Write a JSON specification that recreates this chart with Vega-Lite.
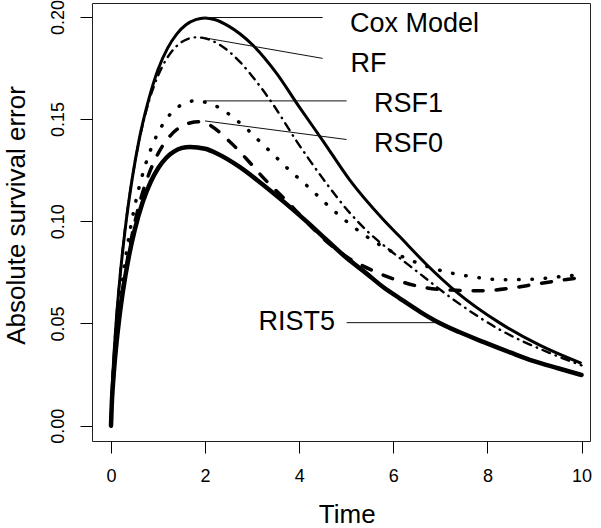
{
  "$schema": "https://vega.github.io/schema/vega-lite/v6.json",
  "width": 498,
  "height": 438,
  "autosize": {"type": "none"},
  "padding": {"left": 92, "top": 3, "right": 11, "bottom": 87},
  "background": "white",
  "config": {
    "view": {"stroke": "#222", "strokeWidth": 1},
    "font": "Liberation Sans",
    "axis": {"grid": false, "domain": false, "tickColor": "#000", "tickWidth": 1, "labelColor": "#000", "titleColor": "#000", "labelFont": "Liberation Sans", "titleFont": "Liberation Sans", "titleFontWeight": "normal"}
  },
  "datasets": {
    "curves": [
      {"model": "Cox Model", "t": 0, "v": 0},
      {"model": "Cox Model", "t": 0.02, "v": 0.0159},
      {"model": "Cox Model", "t": 0.05, "v": 0.0298},
      {"model": "Cox Model", "t": 0.1, "v": 0.0476},
      {"model": "Cox Model", "t": 0.2, "v": 0.0747},
      {"model": "Cox Model", "t": 0.3, "v": 0.0959},
      {"model": "Cox Model", "t": 0.45, "v": 0.1208},
      {"model": "Cox Model", "t": 0.6, "v": 0.1402},
      {"model": "Cox Model", "t": 0.8, "v": 0.1595},
      {"model": "Cox Model", "t": 1.0, "v": 0.1743},
      {"model": "Cox Model", "t": 1.2, "v": 0.1846},
      {"model": "Cox Model", "t": 1.4, "v": 0.1917},
      {"model": "Cox Model", "t": 1.6, "v": 0.1963},
      {"model": "Cox Model", "t": 1.8, "v": 0.1987},
      {"model": "Cox Model", "t": 2.0, "v": 0.1995},
      {"model": "Cox Model", "t": 2.2, "v": 0.1987},
      {"model": "Cox Model", "t": 2.5, "v": 0.1955},
      {"model": "Cox Model", "t": 3.0, "v": 0.1865},
      {"model": "Cox Model", "t": 3.5, "v": 0.173},
      {"model": "Cox Model", "t": 4.0, "v": 0.156},
      {"model": "Cox Model", "t": 4.5, "v": 0.1395},
      {"model": "Cox Model", "t": 5.08, "v": 0.12},
      {"model": "Cox Model", "t": 5.78, "v": 0.101},
      {"model": "Cox Model", "t": 6.14, "v": 0.0924},
      {"model": "Cox Model", "t": 6.7, "v": 0.079},
      {"model": "Cox Model", "t": 7.34, "v": 0.0655},
      {"model": "Cox Model", "t": 8.26, "v": 0.0503},
      {"model": "Cox Model", "t": 9.11, "v": 0.0394},
      {"model": "Cox Model", "t": 10, "v": 0.0305},
      {"model": "RF", "t": 0, "v": 0},
      {"model": "RF", "t": 0.018, "v": 0.0151},
      {"model": "RF", "t": 0.046, "v": 0.0284},
      {"model": "RF", "t": 0.091, "v": 0.0454},
      {"model": "RF", "t": 0.182, "v": 0.0712},
      {"model": "RF", "t": 0.273, "v": 0.0913},
      {"model": "RF", "t": 0.41, "v": 0.115},
      {"model": "RF", "t": 0.546, "v": 0.1335},
      {"model": "RF", "t": 0.728, "v": 0.1523},
      {"model": "RF", "t": 0.91, "v": 0.166},
      {"model": "RF", "t": 1.092, "v": 0.1758},
      {"model": "RF", "t": 1.274, "v": 0.1826},
      {"model": "RF", "t": 1.456, "v": 0.1869},
      {"model": "RF", "t": 1.638, "v": 0.1893},
      {"model": "RF", "t": 1.82, "v": 0.19},
      {"model": "RF", "t": 2.0, "v": 0.1895},
      {"model": "RF", "t": 2.3, "v": 0.1865},
      {"model": "RF", "t": 2.74, "v": 0.178},
      {"model": "RF", "t": 3.0, "v": 0.171},
      {"model": "RF", "t": 3.45, "v": 0.157},
      {"model": "RF", "t": 3.95, "v": 0.139},
      {"model": "RF", "t": 4.5, "v": 0.121},
      {"model": "RF", "t": 5.08, "v": 0.104},
      {"model": "RF", "t": 5.5, "v": 0.094},
      {"model": "RF", "t": 6.0, "v": 0.0845},
      {"model": "RF", "t": 6.5, "v": 0.0755},
      {"model": "RF", "t": 7.2, "v": 0.063},
      {"model": "RF", "t": 8.26, "v": 0.047},
      {"model": "RF", "t": 9.33, "v": 0.0355},
      {"model": "RF", "t": 10, "v": 0.0295},
      {"model": "RSF1", "t": 0, "v": 0},
      {"model": "RSF1", "t": 0.018, "v": 0.0127},
      {"model": "RSF1", "t": 0.046, "v": 0.0238},
      {"model": "RSF1", "t": 0.091, "v": 0.038},
      {"model": "RSF1", "t": 0.182, "v": 0.0596},
      {"model": "RSF1", "t": 0.273, "v": 0.0764},
      {"model": "RSF1", "t": 0.41, "v": 0.0963},
      {"model": "RSF1", "t": 0.546, "v": 0.1117},
      {"model": "RSF1", "t": 0.728, "v": 0.1274},
      {"model": "RSF1", "t": 0.91, "v": 0.1389},
      {"model": "RSF1", "t": 1.092, "v": 0.1471},
      {"model": "RSF1", "t": 1.274, "v": 0.1528},
      {"model": "RSF1", "t": 1.456, "v": 0.1564},
      {"model": "RSF1", "t": 1.638, "v": 0.1584},
      {"model": "RSF1", "t": 1.82, "v": 0.159},
      {"model": "RSF1", "t": 2.1, "v": 0.1575},
      {"model": "RSF1", "t": 2.39, "v": 0.1544},
      {"model": "RSF1", "t": 2.61, "v": 0.1505},
      {"model": "RSF1", "t": 2.85, "v": 0.146},
      {"model": "RSF1", "t": 3.06, "v": 0.1413},
      {"model": "RSF1", "t": 3.27, "v": 0.1367},
      {"model": "RSF1", "t": 3.48, "v": 0.132},
      {"model": "RSF1", "t": 3.7, "v": 0.127},
      {"model": "RSF1", "t": 3.93, "v": 0.1222},
      {"model": "RSF1", "t": 4.16, "v": 0.1175},
      {"model": "RSF1", "t": 4.37, "v": 0.113},
      {"model": "RSF1", "t": 4.58, "v": 0.1084},
      {"model": "RSF1", "t": 4.8, "v": 0.1039},
      {"model": "RSF1", "t": 5.04, "v": 0.0993},
      {"model": "RSF1", "t": 5.27, "v": 0.0952},
      {"model": "RSF1", "t": 5.52, "v": 0.0912},
      {"model": "RSF1", "t": 5.77, "v": 0.0877},
      {"model": "RSF1", "t": 6.28, "v": 0.0818},
      {"model": "RSF1", "t": 6.56, "v": 0.0792},
      {"model": "RSF1", "t": 7.13, "v": 0.0752},
      {"model": "RSF1", "t": 7.73, "v": 0.0727},
      {"model": "RSF1", "t": 8.32, "v": 0.0714},
      {"model": "RSF1", "t": 8.92, "v": 0.0716},
      {"model": "RSF1", "t": 9.5, "v": 0.0728},
      {"model": "RSF1", "t": 10, "v": 0.074},
      {"model": "RSF0", "t": 0, "v": 0},
      {"model": "RSF0", "t": 0.019, "v": 0.0118},
      {"model": "RSF0", "t": 0.047, "v": 0.0222},
      {"model": "RSF0", "t": 0.093, "v": 0.0355},
      {"model": "RSF0", "t": 0.186, "v": 0.0557},
      {"model": "RSF0", "t": 0.279, "v": 0.0714},
      {"model": "RSF0", "t": 0.419, "v": 0.09},
      {"model": "RSF0", "t": 0.558, "v": 0.1045},
      {"model": "RSF0", "t": 0.744, "v": 0.1192},
      {"model": "RSF0", "t": 0.93, "v": 0.1299},
      {"model": "RSF0", "t": 1.116, "v": 0.1376},
      {"model": "RSF0", "t": 1.302, "v": 0.1429},
      {"model": "RSF0", "t": 1.488, "v": 0.1463},
      {"model": "RSF0", "t": 1.674, "v": 0.1481},
      {"model": "RSF0", "t": 1.86, "v": 0.1487},
      {"model": "RSF0", "t": 2.03, "v": 0.1478},
      {"model": "RSF0", "t": 2.49, "v": 0.1397},
      {"model": "RSF0", "t": 2.88, "v": 0.1305},
      {"model": "RSF0", "t": 3.27, "v": 0.1205},
      {"model": "RSF0", "t": 3.73, "v": 0.11},
      {"model": "RSF0", "t": 4.12, "v": 0.1006},
      {"model": "RSF0", "t": 4.55, "v": 0.0908},
      {"model": "RSF0", "t": 5.01, "v": 0.0826},
      {"model": "RSF0", "t": 5.54, "v": 0.0761},
      {"model": "RSF0", "t": 6.07, "v": 0.0712},
      {"model": "RSF0", "t": 6.64, "v": 0.0677},
      {"model": "RSF0", "t": 7.34, "v": 0.0662},
      {"model": "RSF0", "t": 7.84, "v": 0.066},
      {"model": "RSF0", "t": 8.48, "v": 0.0672},
      {"model": "RSF0", "t": 9.04, "v": 0.0693},
      {"model": "RSF0", "t": 9.64, "v": 0.0714},
      {"model": "RSF0", "t": 10, "v": 0.0725},
      {"model": "RIST5", "t": 0, "v": 0},
      {"model": "RIST5", "t": 0.017, "v": 0.0109},
      {"model": "RIST5", "t": 0.042, "v": 0.0204},
      {"model": "RIST5", "t": 0.084, "v": 0.0326},
      {"model": "RIST5", "t": 0.168, "v": 0.0511},
      {"model": "RIST5", "t": 0.252, "v": 0.0655},
      {"model": "RIST5", "t": 0.378, "v": 0.0826},
      {"model": "RIST5", "t": 0.504, "v": 0.0958},
      {"model": "RIST5", "t": 0.672, "v": 0.1093},
      {"model": "RIST5", "t": 0.84, "v": 0.1191},
      {"model": "RIST5", "t": 1.008, "v": 0.1262},
      {"model": "RIST5", "t": 1.176, "v": 0.1311},
      {"model": "RIST5", "t": 1.344, "v": 0.1342},
      {"model": "RIST5", "t": 1.512, "v": 0.1359},
      {"model": "RIST5", "t": 1.68, "v": 0.1364},
      {"model": "RIST5", "t": 2.0, "v": 0.1355},
      {"model": "RIST5", "t": 2.25, "v": 0.1332},
      {"model": "RIST5", "t": 2.74, "v": 0.1265},
      {"model": "RIST5", "t": 3.17, "v": 0.119},
      {"model": "RIST5", "t": 3.7, "v": 0.109},
      {"model": "RIST5", "t": 4.16, "v": 0.0998},
      {"model": "RIST5", "t": 4.6, "v": 0.0905},
      {"model": "RIST5", "t": 5.01, "v": 0.082},
      {"model": "RIST5", "t": 5.4, "v": 0.075},
      {"model": "RIST5", "t": 5.79, "v": 0.0677},
      {"model": "RIST5", "t": 6.14, "v": 0.0622},
      {"model": "RIST5", "t": 6.57, "v": 0.0557},
      {"model": "RIST5", "t": 6.88, "v": 0.0515},
      {"model": "RIST5", "t": 7.4, "v": 0.0458},
      {"model": "RIST5", "t": 7.91, "v": 0.041},
      {"model": "RIST5", "t": 8.5, "v": 0.0357},
      {"model": "RIST5", "t": 8.97, "v": 0.0317},
      {"model": "RIST5", "t": 9.5, "v": 0.0281},
      {"model": "RIST5", "t": 10, "v": 0.0248}
    ],
    "pointers": [
      {"model": "Cox Model", "t1": 1.955, "v1": 0.1997, "t2": 4.497, "v2": 0.1997},
      {"model": "RF", "t1": 1.955, "v1": 0.1899, "t2": 4.497, "v2": 0.1797},
      {"model": "RSF1", "t1": 1.997, "v1": 0.1589, "t2": 5.007, "v2": 0.1589},
      {"model": "RSF0", "t1": 1.997, "v1": 0.1491, "t2": 5.007, "v2": 0.14},
      {"model": "RIST5", "t1": 5.007, "v1": 0.0504, "t2": 6.883, "v2": 0.0504}
    ],
    "labels": [
      {"label": "Cox Model", "t": 5.08, "v": 0.1927, "side": "left"},
      {"label": "RF", "t": 5.09, "v": 0.1732, "side": "left"},
      {"label": "RSF1", "t": 5.59, "v": 0.1535, "side": "left"},
      {"label": "RSF0", "t": 5.59, "v": 0.134, "side": "left"},
      {"label": "RIST5", "t": 4.76, "v": 0.0468, "side": "right"}
    ]
  },
  "encoding": {
    "x": {"type": "quantitative", "scale": {"domain": [-0.404, 10.18], "nice": false, "zero": false}},
    "y": {"type": "quantitative", "scale": {"domain": [-0.0075, 0.2068], "nice": false, "zero": false}}
  },
  "layer": [
    {
      "data": {"name": "curves"},
      "transform": [{"filter": "datum.model === 'Cox Model'"}],
      "mark": {"type": "line", "interpolate": "monotone", "color": "#000", "strokeWidth": 3},
      "encoding": {
        "x": {"field": "t", "type": "quantitative", "axis": {"values": [0, 2, 4, 6, 8, 10], "title": "Time", "tickSize": 12, "labelFontSize": 18, "labelBaseline": "alphabetic", "labelPadding": 28, "titleFontSize": 26, "titleBaseline": "alphabetic", "titleX": 254.7, "titleY": 81.5, "titleAnchor": null}},
        "y": {"field": "v", "type": "quantitative", "axis": {"values": [0, 0.05, 0.1, 0.15, 0.2], "format": ".2f", "title": "Absolute survival error", "tickSize": 12, "labelFontSize": 18, "labelAngle": -90, "labelAlign": "center", "labelBaseline": "alphabetic", "labelPadding": 16.5, "titleFontSize": 26, "titleAngle": -90, "titleAlign": "center", "titleBaseline": "alphabetic", "titleX": -68, "titleY": 212}}
      }
    },
    {
      "data": {"name": "curves"},
      "transform": [{"filter": "datum.model === 'RF'"}],
      "mark": {"type": "line", "interpolate": "monotone", "color": "#000", "strokeWidth": 2.4, "strokeDash": [0.5, 6, 8, 6], "strokeCap": "round"},
      "encoding": {"x": {"field": "t", "type": "quantitative"}, "y": {"field": "v", "type": "quantitative"}}
    },
    {
      "data": {"name": "curves"},
      "transform": [{"filter": "datum.model === 'RSF1'"}],
      "mark": {"type": "line", "interpolate": "monotone", "color": "#000", "strokeWidth": 3.5, "strokeDash": [0.5, 12.8], "strokeCap": "round"},
      "encoding": {"x": {"field": "t", "type": "quantitative"}, "y": {"field": "v", "type": "quantitative"}}
    },
    {
      "data": {"name": "curves"},
      "transform": [{"filter": "datum.model === 'RSF0'"}],
      "mark": {"type": "line", "interpolate": "monotone", "color": "#000", "strokeWidth": 3.5, "strokeDash": [10, 13], "strokeCap": "round"},
      "encoding": {"x": {"field": "t", "type": "quantitative"}, "y": {"field": "v", "type": "quantitative"}}
    },
    {
      "data": {"name": "curves"},
      "transform": [{"filter": "datum.model === 'RIST5'"}],
      "mark": {"type": "line", "interpolate": "monotone", "color": "#000", "strokeWidth": 4.5, "strokeCap": "round"},
      "encoding": {"x": {"field": "t", "type": "quantitative"}, "y": {"field": "v", "type": "quantitative"}}
    },
    {
      "data": {"name": "pointers"},
      "mark": {"type": "rule", "color": "#111", "strokeWidth": 1},
      "encoding": {
        "x": {"field": "t1", "type": "quantitative"},
        "x2": {"field": "t2"},
        "y": {"field": "v1", "type": "quantitative"},
        "y2": {"field": "v2"}
      }
    },
    {
      "data": {"name": "labels"},
      "transform": [{"filter": "datum.side === 'left'"}],
      "mark": {"type": "text", "align": "left", "baseline": "alphabetic", "fontSize": 27, "font": "Liberation Sans", "color": "#000"},
      "encoding": {"x": {"field": "t", "type": "quantitative"}, "y": {"field": "v", "type": "quantitative"}, "text": {"field": "label"}}
    },
    {
      "data": {"name": "labels"},
      "transform": [{"filter": "datum.side === 'right'"}],
      "mark": {"type": "text", "align": "right", "baseline": "alphabetic", "fontSize": 27, "font": "Liberation Sans", "color": "#000"},
      "encoding": {"x": {"field": "t", "type": "quantitative"}, "y": {"field": "v", "type": "quantitative"}, "text": {"field": "label"}}
    }
  ]
}
